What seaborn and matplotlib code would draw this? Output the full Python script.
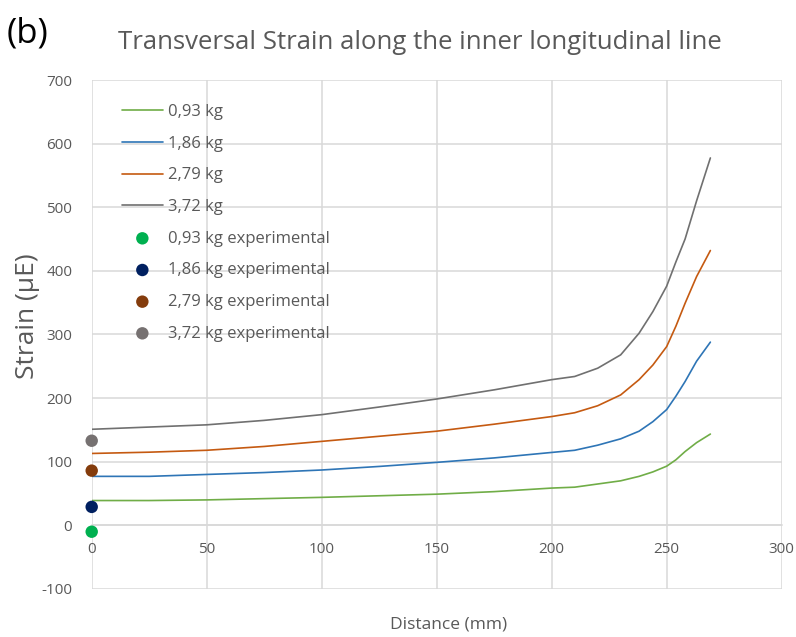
import matplotlib
matplotlib.use("Agg")
import matplotlib.pyplot as plt
import seaborn as sns
import pandas as pd

# ---- data ----
distance = [0, 25, 50, 75, 100, 125, 150, 175, 200, 210, 220, 230, 238, 244, 250, 254, 258, 263, 269]
strain_093 = [39, 39, 40, 42, 44, 46.5, 49, 53, 58.6, 60, 65, 70, 77, 84, 93, 103, 116, 130, 143.5]
strain_186 = [77, 77, 80, 83, 87, 92.6, 99, 106, 114.6, 118, 126, 136, 148, 163, 182, 203, 226, 258, 288]
strain_279 = [113, 115, 118, 124, 132, 140, 148, 159, 171, 177, 188, 205, 229, 252, 281, 313, 349, 391, 432]
strain_372 = [151, 154.5, 158, 165, 174, 186, 198.6, 213, 229, 234, 247, 268, 302, 336, 376, 414, 450, 510, 577.5]

series_labels = ["0,93 kg", "1,86 kg", "2,79 kg", "3,72 kg"]
line_colors = ["#70AD47", "#2E75B6", "#C55A11", "#707070"]

exp_distance = [0, 0, 0, 0]
exp_strain = [-10, 29, 86, 133]
exp_labels = ["0,93 kg experimental", "1,86 kg experimental",
              "2,79 kg experimental", "3,72 kg experimental"]
exp_colors = ["#00B050", "#002060", "#843C0C", "#767171"]

x_ticks = [0, 50, 100, 150, 200, 250, 300]
y_ticks = [-100, 0, 100, 200, 300, 400, 500, 600, 700]

# ---- plot ----
sns.set_theme(style="white")
plt.rcParams['font.family'] = ['Open Sans', 'DejaVu Sans']
plt.rcParams['axes.unicode_minus'] = False

fig = plt.figure(figsize=(7.96, 6.37), dpi=100)
ax = fig.add_axes([0.1152, 0.0754, 0.8668, 0.799])

grid_c = "#D9D9D9"
for vals, lab, col in zip([strain_093, strain_186, strain_279, strain_372], series_labels, line_colors):
    df = pd.DataFrame({"Distance": distance, "Strain": vals})
    sns.lineplot(data=df, x="Distance", y="Strain", color=col, linewidth=1.2,
                 label=lab, ax=ax, zorder=3)

for xv, yv, lab, col in zip(exp_distance, exp_strain, exp_labels, exp_colors):
    sns.scatterplot(x=[xv], y=[yv], color=col, s=80, edgecolor="none",
                    label=lab, ax=ax, clip_on=False, zorder=4)

ax.set_xlim(0, 300)
ax.set_ylim(-100, 700)
ax.set_xticks(x_ticks)
ax.set_yticks(y_ticks)
ax.grid(True, color=grid_c, linewidth=1.1)
ax.set_axisbelow(True)
for s in ["top", "right", "left"]:
    ax.spines[s].set_visible(False)
ax.spines["bottom"].set_position(("data", 0))
ax.spines["bottom"].set_color(grid_c)
ax.spines["bottom"].set_linewidth(1.1)
ax.tick_params(axis="x", length=0, pad=12, labelsize=11, labelcolor="#595959")
ax.tick_params(axis="y", length=0, pad=14, labelsize=11, labelcolor="#595959")

ax.set_xlabel("")
ax.set_ylabel("")
fig.text(0.5635, 0.019, "Distance (mm)", ha="center", va="center", fontsize=12.5, color="#595959")
fig.text(0.035, 0.504, "Strain (µE)", ha="center", va="center", rotation=90, fontsize=19, color="#595959")
fig.text(0.527, 0.934, "Transversal Strain along the inner longitudinal line",
         ha="center", va="center", fontsize=18.5, color="#595959")
fig.text(0.008, 0.947, "(b)", ha="left", va="center", fontsize=25, color="black")

leg = ax.legend(loc="upper left", bbox_to_anchor=(0.138, 0.855), bbox_transform=fig.transFigure,
                frameon=False, fontsize=12, handlelength=2.5, handletextpad=0.3,
                labelspacing=0.94, borderpad=0.2, markerscale=1.0)
for t in leg.get_texts():
    t.set_color("#595959")

fig.savefig("out.png", dpi=100)
